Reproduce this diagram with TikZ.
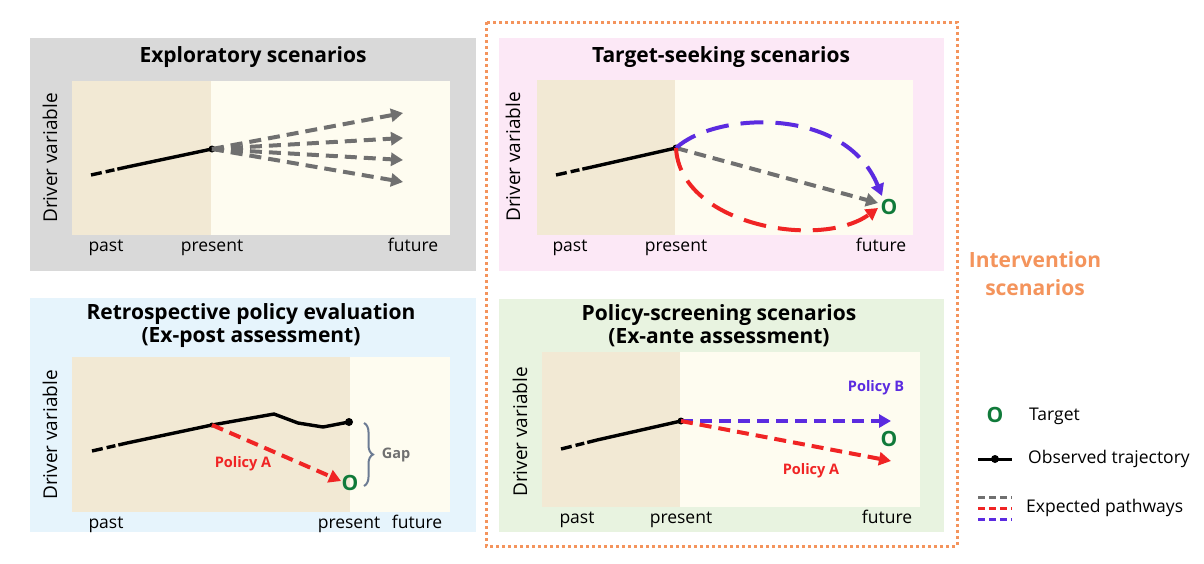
\documentclass[tikz,border=0pt]{standalone}
\usepackage{fontspec}
\setmainfont{Open Sans}
\usetikzlibrary{arrows.meta,decorations.pathreplacing}
\definecolor{cgray}{HTML}{D9D9D9}
\definecolor{cpink}{HTML}{FCE8F6}
\definecolor{cblue}{HTML}{E6F4FC}
\definecolor{cgreen}{HTML}{E8F3E0}
\definecolor{cpast}{HTML}{F2E9D4}
\definecolor{cfut}{HTML}{FEFCF0}
\definecolor{garr}{HTML}{707070}
\definecolor{rarr}{HTML}{F02424}
\definecolor{barr}{HTML}{5B2BE0}
\definecolor{ctarget}{HTML}{107A3A}
\definecolor{corange}{HTML}{F4945C}
\definecolor{cbrace}{HTML}{6C7B93}
\begin{document}
\begin{tikzpicture}[x=1pt,y=-1pt,
  title/.style={font=\fontsize{21}{23}\selectfont\bfseries, align=center, inner sep=0pt},
  axlab/.style={font=\fontsize{17.5}{19}\selectfont, inner sep=0pt, anchor=base},
  ylab/.style={font=\fontsize{19}{20}\selectfont, rotate=90, inner sep=0pt},
  obs/.style={line width=3.4pt, black},
  obsdash/.style={line width=3.4pt, black, dash pattern=on 11pt off 4pt on 9pt off 3pt},
  tip/.style={-{Triangle[length=12pt,width=13pt]}},
  gpath/.style={tip, draw=garr, line width=4pt, dash pattern=on 12pt off 7pt},
  rpath/.style={tip, draw=rarr, line width=4pt, dash pattern=on 12pt off 7pt},
  bpath/.style={tip, draw=barr, line width=4pt, dash pattern=on 12pt off 7pt},
  rlong/.style={tip, draw=rarr, line width=4pt, dash pattern=on 23pt off 12pt},
  blong/.style={tip, draw=barr, line width=4pt, dash pattern=on 23pt off 12pt},
  dotn/.style={circle, fill=black, inner sep=0pt, minimum size=7pt},
  target/.style={font=\fontsize{21}{22}\selectfont\bfseries, text=ctarget, inner sep=0pt},
  pol/.style={font=\fontsize{14.5}{16}\selectfont\bfseries, inner sep=0pt},
  legtext/.style={font=\fontsize{17.5}{19}\selectfont, anchor=base west, inner sep=0pt},
  legdash/.style={line width=3pt, dash pattern=on 7pt off 4pt}
]
\useasboundingbox (0,0) rectangle (1204,563);
\fill[white] (0,0) rectangle (1204,563);

% panels
\fill[cgray] (30,38) rectangle (476,271);
\fill[cpink] (499,38) rectangle (944,271);
\fill[cblue] (30,298) rectangle (476,532);
\fill[cgreen] (499,299) rectangle (944,532);

% plot areas
\fill[cpast] (72,81) rectangle (211,235);
\fill[cfut] (211,81) rectangle (450,235);
\fill[cpast] (537,80) rectangle (675,235);
\fill[cfut] (675,80) rectangle (913,235);
\fill[cpast] (72,357) rectangle (350,512);
\fill[cfut] (350,357) rectangle (450,512);
\fill[cpast] (542,352) rectangle (680,507);
\fill[cfut] (680,352) rectangle (920,507);

% intervention box
\draw[corange, line width=3pt, dash pattern=on 3pt off 3pt] (486,22) rectangle (957,546);
\node[font=\fontsize{21}{28}\selectfont\bfseries, text=corange, align=center] (interv) at (1035,274) {Intervention\\scenarios};

% ---------- Panel 1 ----------
\node[title] (t1) at (253,57) {Exploratory scenarios};
\node[ylab] (y1) at (50,158) {Driver variable};
\node[axlab] (pa1) at (106,251) {past};
\node[axlab] (pr1) at (212,251) {present};
\node[axlab] (fu1) at (413,251) {future};
\coordinate (s1) at (91,175);
\coordinate (m1) at (127,167);
\node[dotn] (p1) at (212,149) {};
\coordinate (e1a) at (403,113);
\coordinate (e1b) at (403,138);
\coordinate (e1c) at (403,160);
\coordinate (e1d) at (403,182);
\draw[obsdash] (s1) -- (m1);
\draw[obs] (m1) -- (p1.center);
\draw[gpath] (p1.center) -- (e1a);
\draw[gpath] (p1.center) -- (e1b);
\draw[gpath] (p1.center) -- (e1c);
\draw[gpath] (p1.center) -- (e1d);

% ---------- Panel 2 ----------
\node[title] (t2) at (721,57) {Target-seeking scenarios};
\node[ylab] (y2) at (513,157) {Driver variable};
\node[axlab] (pa2) at (570,251) {past};
\node[axlab] (pr2) at (676,251) {present};
\node[axlab] (fu2) at (881,251) {future};
\coordinate (s2) at (556,175);
\coordinate (m2) at (592,167);
\node[dotn] (p2) at (676,148) {};
\node[target] (o2) at (889,207) {O};
\coordinate (g2) at (878,203);
\coordinate (b2) at (882,196);
\coordinate (r2) at (878,208);
\draw[obsdash] (s2) -- (m2);
\draw[obs] (m2) -- (p2.center);
\draw[gpath] (p2.center) -- (g2);
\draw[blong] (p2.center) .. controls (715,112) and (845,105) .. (b2);
\draw[rlong] (p2.center) .. controls (680,225) and (820,250) .. (r2);

% ---------- Panel 3 ----------
\node[title] (t3) at (251,326) {Retrospective policy evaluation\\(Ex-post assessment)};
\node[ylab] (y3) at (50,435) {Driver variable};
\node[axlab] (pa3) at (106,528) {past};
\node[axlab] (pr3) at (349,528) {present};
\node[axlab] (fu3) at (417,528) {future};
\coordinate (s3) at (92,451);
\coordinate (m3) at (127,443);
\node[dotn, minimum size=5pt] (p3) at (212,425) {};
\coordinate (k1) at (274,414);
\coordinate (k2) at (298,423);
\coordinate (k3) at (323,427);
\node[dotn, minimum size=8pt] (n3) at (349,422) {};
\node[target] (o3) at (350,483) {O};
\coordinate (r3) at (341,481);
\draw[obsdash] (s3) -- (m3);
\draw[obs, line join=round] (m3) -- (p3.center) -- (k1) -- (k2) -- (k3) -- (n3.center);
\draw[rpath] (p3.center) -- (r3);
\node[pol, text=rarr] (pA3) at (243,464) {Policy A};
\coordinate (br1) at (364,423);
\coordinate (br2) at (364,486);
\draw[cbrace, line width=2pt, decorate, decoration={brace, amplitude=9pt}] (br1) -- (br2);
\node[pol, text=garr] (gap) at (396,455) {Gap};

% ---------- Panel 4 ----------
\node[title] (t4) at (719,326) {Policy-screening scenarios\\(Ex-ante assessment)};
\node[ylab] (y4) at (520,432) {Driver variable};
\node[axlab] (pa4) at (577,523) {past};
\node[axlab] (pr4) at (681,523) {present};
\node[axlab] (fu4) at (887,523) {future};
\coordinate (s4) at (561,449);
\coordinate (m4) at (597,440);
\node[dotn] (p4) at (681,421) {};
\coordinate (b4) at (891,421);
\coordinate (r4) at (891,461);
\node[target] (o4) at (889,439) {O};
\draw[obsdash] (s4) -- (m4);
\draw[obs] (m4) -- (p4.center);
\draw[bpath] (p4.center) -- (b4);
\draw[rpath] (p4.center) -- (r4);
\node[pol, text=barr] (pB4) at (876,388) {Policy B};
\node[pol, text=rarr] (pA4) at (811,471) {Policy A};

% ---------- Legend ----------
\node[target] (lo) at (995,415) {O};
\node[legtext] (lt1) at (1029,420) {Target};
\coordinate (la) at (978,459);
\coordinate (lb) at (1012,459);
\draw[obs, line width=3pt] (la) -- (lb);
\node[dotn, minimum size=8pt] (ld) at (995,459) {};
\node[legtext] (lt2) at (1028,463) {Observed trajectory};
\coordinate (lg1) at (978,497);
\coordinate (lg2) at (1012,497);
\coordinate (lr1) at (978,508);
\coordinate (lr2) at (1012,508);
\coordinate (lb1) at (978,519);
\coordinate (lb2) at (1012,519);
\draw[legdash, garr] (lg1) -- (lg2);
\draw[legdash, rarr] (lr1) -- (lr2);
\draw[legdash, barr] (lb1) -- (lb2);
\node[legtext] (lt3) at (1026,512) {Expected pathways};
\end{tikzpicture}
\end{document}
